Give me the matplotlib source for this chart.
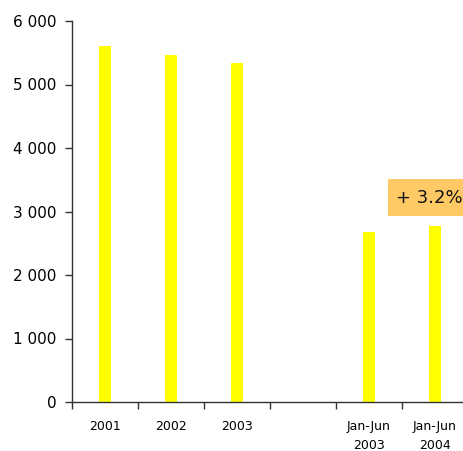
import matplotlib
matplotlib.use("Agg")
import matplotlib.pyplot as plt
from matplotlib.patches import Rectangle
from matplotlib.ticker import FuncFormatter

# values per period (empty slot between yearly and half-year figures)
periods = ["2001", "2002", "2003", "", "Jan-Jun\n2003", "Jan-Jun\n2004"]
values = [5600, 5460, 5340, None, 2680, 2770]
change_label = "+ 3.2%"

W, H = 464, 451
fig = plt.figure(figsize=(W / 100, H / 100), dpi=100)
ax = fig.add_axes([72 / W, 1 - 402 / H, 396 / W, 381 / H])

xs = [i for i, v in enumerate(values) if v is not None]
hs = [v for v in values if v is not None]
ax.bar(xs, hs, width=0.17, color="#ffff00", zorder=2)

ax.set_xlim(-0.5, len(periods) - 0.5)
ax.set_ylim(0, 6000)

# boundaries between categories carry the tick marks, labels sit in between
ax.set_xticks([i - 0.5 for i in range(len(periods))])
ax.set_xticklabels([])
ax.set_xticks(range(len(periods)), minor=True)
ax.set_xticklabels(periods, minor=True, fontsize=9, linespacing=1.6)
ax.tick_params(axis="x", which="major", length=5, width=1, color="#333333", direction="out")
ax.tick_params(axis="x", which="minor", length=0, pad=13)

ax.set_yticks(range(0, 6001, 1000))
ax.yaxis.set_major_formatter(FuncFormatter(lambda v, p: f"{int(v):,}".replace(",", " ")))
ax.tick_params(axis="y", length=5, width=1, color="#333333", labelsize=11, pad=6)

for s in ["top", "right"]:
    ax.spines[s].set_visible(False)
for s in ["left", "bottom"]:
    ax.spines[s].set_color("#333333")
    ax.spines[s].set_linewidth(1)

# highlighted change between the two half-year periods
fig.patches.append(Rectangle((388 / W, 1 - 216 / H), 80 / W, 37 / H,
                             transform=fig.transFigure, facecolor="#ffc966",
                             edgecolor="none", zorder=3))
fig.text(429 / W, 1 - 198 / H, change_label, fontsize=13, ha="center",
         va="center", color="#111111", zorder=4)

fig.savefig("out.png", dpi=100)
